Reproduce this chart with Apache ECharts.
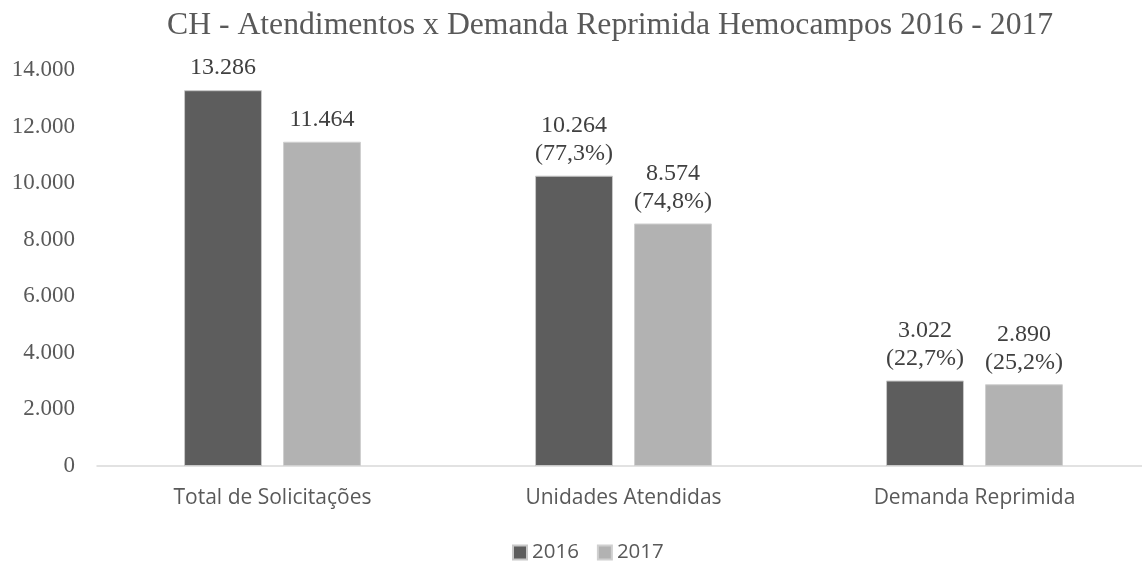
<!DOCTYPE html>
<html><head><meta charset="utf-8">
<script src="https://cdn.jsdelivr.net/npm/echarts@6/dist/echarts.min.js"></script>
<style>html,body{margin:0;padding:0;background:#fff;overflow:hidden;width:1142px;height:563px}#c{width:1160px;height:563px}</style>
</head><body><div id="c"></div>
<script>
const categories = ['Total de Solicitações', 'Unidades Atendidas', 'Demanda Reprimida'];
const values2016 = [13286, 10264, 3022];
const values2017 = [11464, 8574, 2890];
const pct2016 = ['', '77,3%', '22,7%'];
const pct2017 = ['', '74,8%', '25,2%'];
const yTicks = [0, 2000, 4000, 6000, 8000, 10000, 12000, 14000];

function fmtNum(v){ return String(v).replace(/\B(?=(\d{3})+(?!\d))/g, '.'); }
function mkLabel(pcts){
  return {
    show: true, position: 'top', distance: 8,
    fontFamily: 'Liberation Serif', fontSize: 24, color: '#404040', lineHeight: 28,
    formatter: p => pcts[p.dataIndex] ? fmtNum(p.value) + '\n(' + pcts[p.dataIndex] + ')' : fmtNum(p.value)
  };
}
const chart = echarts.init(document.getElementById('c'), null, {renderer:'canvas'});
chart.setOption({
  animation: false,
  title: { text: 'CH - Atendimentos x Demanda Reprimida Hemocampos 2016 - 2017', left: 162, top: 5,
    textStyle: { fontFamily: 'Liberation Serif', fontSize: 31.7, fontWeight: 'normal', color: '#595959' } },
  legend: { top: 537, left: 507, itemWidth: 14, itemHeight: 14, itemGap: 18,
    icon: 'rect', textStyle: { fontFamily: 'Open Sans', fontSize: 20.5, color: '#595959' } },
  grid: { left: 97, right: 10, top: 70, bottom: 97 },
  xAxis: { type: 'category', data: categories,
    axisLine: { lineStyle: { color: '#d9d9d9', width: 1.5 } }, axisTick: { show: false },
    axisLabel: { fontFamily: 'Open Sans', fontSize: 21, color: '#595959', margin: 22 } },
  yAxis: { type: 'value', min: 0, max: 14000, interval: 2000,
    axisLine: { show: false }, axisTick: { show: false }, splitLine: { show: false },
    axisLabel: { fontFamily: 'Liberation Serif', fontSize: 23, color: '#595959', margin: 22,
      formatter: v => fmtNum(v) } },
  series: [
    { name: '2016', type: 'bar', data: values2016, barWidth: '22.2%', barGap: '27%',
      itemStyle: { color: '#5d5d5d', borderColor: '#c8c8c8', borderWidth: 1 }, label: mkLabel(pct2016) },
    { name: '2017', type: 'bar', data: values2017, barWidth: '22.2%',
      itemStyle: { color: '#b2b2b2', borderColor: '#d0d0d0', borderWidth: 1 }, label: mkLabel(pct2017) }
  ]
});
</script></body></html>
